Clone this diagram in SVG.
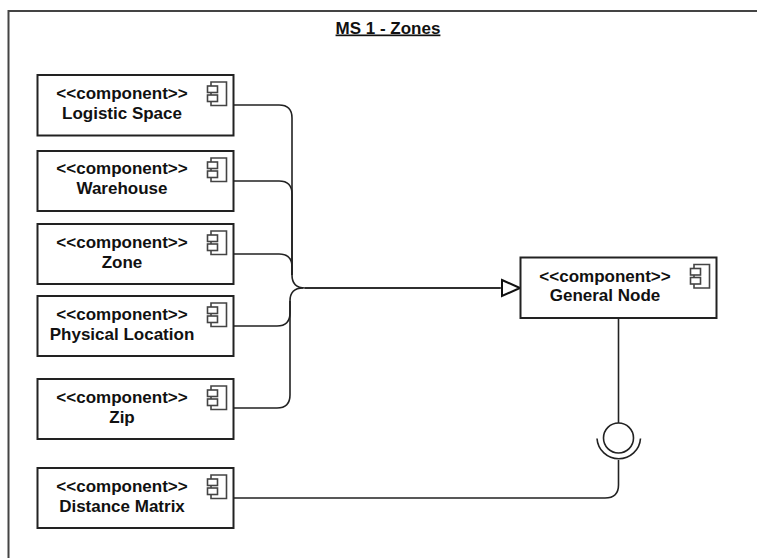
<svg xmlns="http://www.w3.org/2000/svg" width="757" height="558" viewBox="0 0 757 558">
<defs>
<style>
text{font-family:"Liberation Sans",Arial,sans-serif;font-weight:700;font-size:17px;fill:#111;text-anchor:middle}
.box{fill:#fff;stroke:#222;stroke-width:2}
.ic{fill:#fff;stroke:#444;stroke-width:1.6}
.c{fill:none;stroke:#222;stroke-width:1.6}
</style>
<g id="icon"><path class="ic" d="M3.500 0H19V23.500H3.500Z"/><rect class="ic" x="0" y="4" width="10" height="6.500"/><rect class="ic" x="0" y="13" width="10" height="6.500"/></g>
<marker id="tri" markerUnits="userSpaceOnUse" markerWidth="22" markerHeight="22" refX="19" refY="10" orient="auto"><path d="M1 2L19 10L1 18Z" fill="#fff" stroke="#111" stroke-width="2"/></marker>
</defs>
<rect width="757" height="558" fill="#fff"/>
<path id="frame" d="M8.500 558V11H757" fill="none" stroke="#444" stroke-width="2"/>
<text x="388" y="33.500" text-decoration="underline">MS 1 - Zones</text>
<g id="connectors">
<path class="c" d="M233 105H279Q292 105 292 118V275Q292 288 305 288H500"/>
<path class="c" d="M233 181H279Q292 181 292 194V275"/>
<path class="c" d="M233 254H279Q292 254 292 267V275"/>
<path class="c" d="M233 326H277Q290 326 290 313V301Q290 288 303 288"/>
<path class="c" d="M233 408H277Q290 408 290 395V301"/>
<path class="c" d="M305 288H520" marker-end="url(#tri)"/>
<path class="c" d="M618.500 318V423"/>
<path class="c" d="M233 498H605Q618.500 498 618.500 485V460"/>
<circle class="c" cx="618.500" cy="438" r="15"/>
<path class="c" d="M597 438.500A21.800 21.800 0 0 0 640.500 438.500"/>
</g>
<g id="logistic-space"><rect class="box" x="37.500" y="75" width="196" height="60.500"/><use href="#icon" x="207.500" y="82"/><text x="122" y="99">&lt;&lt;component&gt;&gt;</text><text x="122" y="119">Logistic Space</text></g>
<g id="warehouse"><rect class="box" x="37.500" y="151" width="196" height="60"/><use href="#icon" x="207.500" y="158"/><text x="122" y="174">&lt;&lt;component&gt;&gt;</text><text x="122" y="194">Warehouse</text></g>
<g id="zone"><rect class="box" x="37.500" y="224" width="196" height="60"/><use href="#icon" x="207.500" y="231"/><text x="122" y="248">&lt;&lt;component&gt;&gt;</text><text x="122" y="268">Zone</text></g>
<g id="physical-location"><rect class="box" x="37.500" y="296" width="196" height="60"/><use href="#icon" x="207.500" y="303"/><text x="122" y="320">&lt;&lt;component&gt;&gt;</text><text x="122" y="340">Physical Location</text></g>
<g id="zip"><rect class="box" x="37.500" y="379" width="196" height="60"/><use href="#icon" x="207.500" y="386"/><text x="122" y="403">&lt;&lt;component&gt;&gt;</text><text x="122" y="423">Zip</text></g>
<g id="distance-matrix"><rect class="box" x="37.500" y="468" width="196" height="60"/><use href="#icon" x="207.500" y="475"/><text x="122" y="492">&lt;&lt;component&gt;&gt;</text><text x="122" y="512">Distance Matrix</text></g>
<g id="general-node"><rect class="box" x="520.500" y="257.500" width="196" height="60.500"/><use href="#icon" x="690.500" y="264.500"/><text x="605" y="282">&lt;&lt;component&gt;&gt;</text><text x="605" y="301">General Node</text></g>
</svg>
